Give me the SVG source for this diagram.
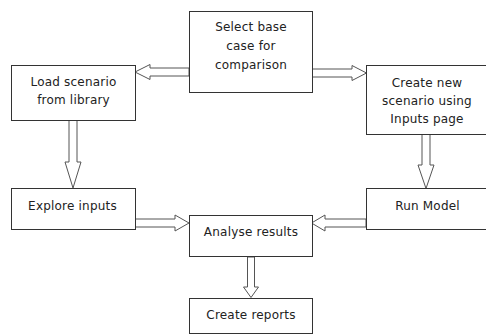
<svg xmlns="http://www.w3.org/2000/svg" width="486" height="336" viewBox="0 0 486 336">
<style>
.box{fill:#fff;stroke:#333;stroke-width:1}
.t{font-family:"DejaVu Sans",sans-serif;font-size:12px;fill:#222;text-anchor:middle;letter-spacing:0.2px}
.arr{fill:#fff;stroke:#555;stroke-width:1;stroke-linejoin:miter}
</style>
<rect width="486" height="336" fill="#fff"/>
<g id="connectors">
<polygon class="arr" points="189,68 150,68 150,64.5 135,72 150,79.5 150,76 189,76"/>
<polygon class="arr" points="312,69 352,69 352,65.5 366.5,73 352,80.5 352,77 312,77"/>
<polygon class="arr" points="69,120 69,162 65,162 73,188 81,162 77,162 77,120"/>
<polygon class="arr" points="422,134 422,165 418,165 426,188.5 434,165 430,165 430,134"/>
<polygon class="arr" points="135,219 175,219 175,215 189,223 175,231 175,227 135,227"/>
<polygon class="arr" points="366,219 325,219 325,215 311.5,223 325,231 325,227 366,227"/>
<polygon class="arr" points="247.5,257 247.5,287 243.5,287 251,297.5 258.5,287 254.5,287 254.5,257"/>
</g>
<g id="select">
<rect class="box" x="189.5" y="11.5" width="123" height="81"/>
<text class="t" x="251" y="31">Select base</text>
<text class="t" x="251" y="50">case for</text>
<text class="t" x="251" y="69">comparison</text>
</g>
<g id="load">
<rect class="box" x="11.5" y="65.5" width="124" height="55"/>
<text class="t" x="73.5" y="86">Load scenario</text>
<text class="t" x="73.5" y="104">from library</text>
</g>
<g id="create">
<rect class="box" x="366.5" y="65.5" width="130" height="69"/>
<text class="t" x="427" y="87">Create new</text>
<text class="t" x="427" y="105">scenario using</text>
<text class="t" x="427" y="123">Inputs page</text>
</g>
<g id="explore">
<rect class="box" x="11.5" y="188.5" width="124" height="41"/>
<text class="t" x="72.5" y="210">Explore inputs</text>
</g>
<g id="run">
<rect class="box" x="366.5" y="188.5" width="130" height="41"/>
<text class="t" x="427.5" y="210">Run Model</text>
</g>
<g id="analyse">
<rect class="box" x="189.5" y="215.5" width="123" height="41"/>
<text class="t" x="251" y="236">Analyse results</text>
</g>
<g id="reports">
<rect class="box" x="189.5" y="298.5" width="123" height="35"/>
<text class="t" x="251" y="319">Create reports</text>
</g>
</svg>
